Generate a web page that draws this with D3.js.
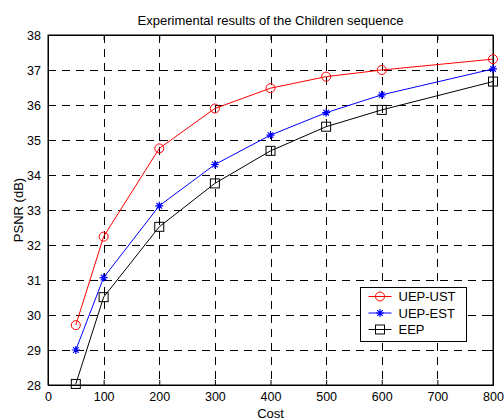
<!DOCTYPE html>
<html>
<head>
<meta charset="utf-8">
<script src="https://cdn.jsdelivr.net/npm/d3@7.9.0/dist/d3.min.js"></script>
<style>
  body { margin: 0; background: #fff; }
  text { font-family: Arial, "Liberation Sans", sans-serif; fill: #000; }
</style>
</head>
<body>
<svg id="chart" width="504" height="420"></svg>
<script>
// Data
const costs = [50, 100, 200, 300, 400, 500, 600, 800];
const uepUst = [29.71, 32.24, 34.76, 35.9, 36.48, 36.81, 37.0, 37.31];
const uepEst = [29.0, 31.07, 33.12, 34.3, 35.14, 35.78, 36.29, 37.03];
const eep = [28.03, 30.51, 32.52, 33.76, 34.69, 35.38, 35.86, 36.67];
const xTicks = [0, 100, 200, 300, 400, 500, 600, 700, 800];
const yTicks = [28, 29, 30, 31, 32, 33, 34, 35, 36, 37, 38];

const series = [
  { name: 'UEP-UST', values: uepUst, color: '#ff0000', marker: 'circle' },
  { name: 'UEP-EST', values: uepEst, color: '#0000ff', marker: 'star' },
  { name: 'EEP', values: eep, color: '#000000', marker: 'square' }
];

const svg = d3.select('#chart');
const margin = { left: 48, right: 11, top: 35, bottom: 35 };
const width = 504, height = 420;

const x = d3.scaleLinear().domain([0, 800]).range([margin.left, width - margin.right]);
const y = d3.scaleLinear().domain([28, 38]).range([height - margin.bottom, margin.top]);

const x0 = x.range()[0], x1 = x.range()[1];
const y0 = y.range()[0], y1 = y.range()[1];

// Grid
const grid = svg.append('g')
  .attr('stroke', '#000')
  .attr('stroke-width', 1)
  .attr('stroke-dasharray', '8,6')
  .attr('shape-rendering', 'crispEdges');
grid.selectAll('.vx')
  .data(xTicks.slice(1, -1))
  .join('line')
  .attr('x1', d => Math.round(x(d)) + 0.5)
  .attr('x2', d => Math.round(x(d)) + 0.5)
  .attr('y1', y1).attr('y2', y0);
grid.selectAll('.hy')
  .data(yTicks.slice(1, -1))
  .join('line')
  .attr('y1', d => Math.round(y(d)) + 0.5)
  .attr('y2', d => Math.round(y(d)) + 0.5)
  .attr('x1', x0).attr('x2', x1);

// Axes (ticks inward, box)
const xAxis = svg.append('g')
  .attr('transform', `translate(0,${y0})`)
  .call(d3.axisBottom(x).tickValues(xTicks).tickSize(-5).tickPadding(7));
const xAxisTop = svg.append('g')
  .attr('transform', `translate(0,${y1})`)
  .call(d3.axisTop(x).tickValues(xTicks).tickSize(-5).tickFormat(''));
const yAxis = svg.append('g')
  .attr('transform', `translate(${x0},0)`)
  .call(d3.axisLeft(y).tickValues(yTicks).tickSize(-5).tickPadding(7));
const yAxisRight = svg.append('g')
  .attr('transform', `translate(${x1},0)`)
  .call(d3.axisRight(y).tickValues(yTicks).tickSize(-5).tickFormat(''));

[xAxis, xAxisTop, yAxis, yAxisRight].forEach(g => {
  g.select('.domain').attr('stroke', '#000');
  g.selectAll('.tick line').attr('stroke', '#000');
  g.selectAll('text').style('font-size', '12.5px').attr('fill', '#000')
    .style('font-family', 'Arial, "Liberation Sans", sans-serif');
});
svg.append('rect')
  .attr('x', x0).attr('y', y1)
  .attr('width', x1 - x0).attr('height', y0 - y1)
  .attr('fill', 'none').attr('stroke', '#000').attr('stroke-width', 1);

// Lines
const line = d3.line().x((d, i) => x(costs[i])).y(d => y(d));

function drawMarker(g, type, color) {
  if (type === 'circle') {
    g.append('circle').attr('r', 4.5).attr('fill', 'none').attr('stroke', color);
  } else if (type === 'square') {
    g.append('rect').attr('x', -4.5).attr('y', -4.5).attr('width', 9).attr('height', 9)
      .attr('fill', 'none').attr('stroke', color);
  } else {
    const s = 4;
    g.append('path')
      .attr('d', `M${-s},0H${s}M0,${-s}V${s}M${-s * 0.7},${-s * 0.7}L${s * 0.7},${s * 0.7}M${-s * 0.7},${s * 0.7}L${s * 0.7},${-s * 0.7}`)
      .attr('stroke', color).attr('stroke-width', 1.2);
  }
}

series.forEach(s => {
  svg.append('path')
    .datum(s.values)
    .attr('d', line)
    .attr('fill', 'none')
    .attr('stroke', s.color)
    .attr('stroke-width', 1);
  s.values.forEach((v, i) => {
    const g = svg.append('g').attr('transform', `translate(${x(costs[i])},${y(v)})`);
    drawMarker(g, s.marker, s.color);
  });
});

// Legend
const legend = svg.append('g').attr('transform', 'translate(360.5,287.5)');
legend.append('rect')
  .attr('width', 106).attr('height', 54)
  .attr('fill', '#fff').attr('stroke', '#000');
series.forEach((s, i) => {
  const ly = 9 + i * 16.5;
  legend.append('line')
    .attr('x1', 8).attr('x2', 31).attr('y1', ly).attr('y2', ly)
    .attr('stroke', s.color);
  drawMarker(legend.append('g').attr('transform', `translate(19.5,${ly})`), s.marker, s.color);
  legend.append('text')
    .attr('x', 38).attr('y', ly + 4.5)
    .style('font-size', '13px')
    .text(s.name);
});

// Title and labels
svg.append('text')
  .attr('x', (x0 + x1) / 2).attr('y', 25)
  .attr('text-anchor', 'middle')
  .style('font-size', '13px')
  .text('Experimental results of the Children sequence');
svg.append('text')
  .attr('x', (x0 + x1) / 2).attr('y', 418)
  .attr('text-anchor', 'middle')
  .style('font-size', '13px')
  .text('Cost');
svg.append('text')
  .attr('transform', `translate(23,${(y0 + y1) / 2}) rotate(-90)`)
  .attr('text-anchor', 'middle')
  .style('font-size', '13px')
  .text('PSNR (dB)');
</script>
</body>
</html>
